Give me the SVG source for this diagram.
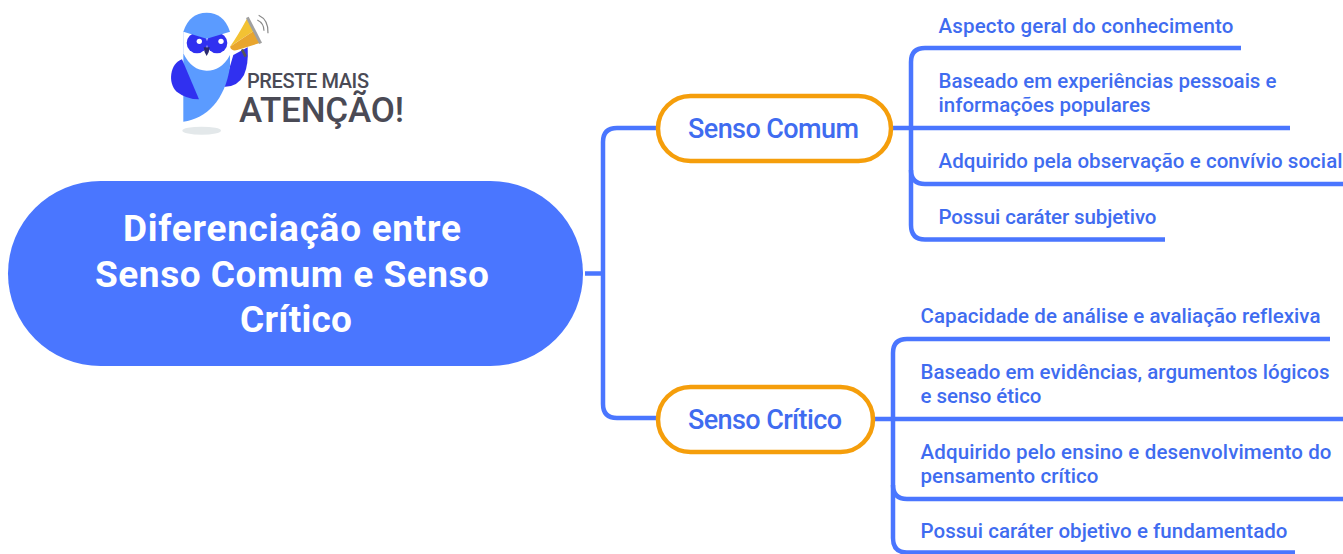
<svg xmlns="http://www.w3.org/2000/svg" width="1343" height="554" viewBox="0 0 1343 554">
<style>
text{font-family:"Roboto","Noto Sans","Liberation Sans",sans-serif;font-variant-ligatures:none}
.leaf{font-size:20.500px;font-weight:500;fill:#3f6cf0}
.mid{font-size:27px;font-weight:500;fill:#3f6cf0}
.title{font-size:37px;font-weight:700;fill:#fff}
.pill{fill:#fff;stroke:#f59e0b;stroke-width:4.5}
.c{fill:none;stroke:#4a76ff;stroke-width:4.5}
.logo{fill:#4a4a55;font-weight:500}
</style>
<rect width="1343" height="554" fill="#fff"/>
<g id="connectors">
<path class="c" d="M585 273.500H603"/>
<path class="c" d="M657 128H617Q603 128 603 142V404Q603 418 617 418H657"/>
<path class="c" d="M893 128H1290"/>
<path class="c" d="M1241 48H925Q911 48 911 62V225Q911 239.500 925 239.500H1165"/>
<path class="c" d="M911 170Q911 184 925 184H1343"/>
<path class="c" d="M875 419H1343"/>
<path class="c" d="M1330 339H907Q893 339 893 353V538Q893 552.500 907 552.500H1295"/>
<path class="c" d="M893 485Q893 499 907 499H1343"/>
</g>
<g id="root">
<rect x="8" y="181" width="575" height="185" rx="92.500" fill="#4a76ff"/>
<text class="title" x="123" y="241" textLength="338">Diferenciação entre</text>
<text class="title" x="95" y="287" textLength="394">Senso Comum e Senso</text>
<text class="title" x="240" y="332" textLength="112">Crítico</text>
</g>
<g id="senso-comum">
<rect class="pill" x="658" y="96" width="233" height="65" rx="32.500"/>
<text class="mid" x="688" y="138" textLength="171">Senso Comum</text>
</g>
<g id="senso-critico">
<rect class="pill" x="658" y="387" width="215" height="65" rx="32.500"/>
<text class="mid" x="688" y="429" textLength="154">Senso Crítico</text>
</g>
<g id="leaf-c1"><text class="leaf" x="938.500" y="33" textLength="295">Aspecto geral do conhecimento</text></g>
<g id="leaf-c2"><text class="leaf" x="938.500" y="88" textLength="338">Baseado em experiências pessoais e</text><text class="leaf" x="938.500" y="112" textLength="212">informações populares</text></g>
<g id="leaf-c3"><text class="leaf" x="938.500" y="168" textLength="404">Adquirido pela observação e convívio social</text></g>
<g id="leaf-c4"><text class="leaf" x="938.500" y="224" textLength="218">Possui caráter subjetivo</text></g>
<g id="leaf-s1"><text class="leaf" x="920.500" y="323" textLength="400">Capacidade de análise e avaliação reflexiva</text></g>
<g id="leaf-s2"><text class="leaf" x="920.500" y="379" textLength="409">Baseado em evidências, argumentos lógicos</text><text class="leaf" x="920.500" y="403" textLength="121">e senso ético</text></g>
<g id="leaf-s3"><text class="leaf" x="920.500" y="459" textLength="411">Adquirido pelo ensino e desenvolvimento do</text><text class="leaf" x="920.500" y="483" textLength="178">pensamento crítico</text></g>
<g id="leaf-s4"><text class="leaf" x="920.500" y="538" textLength="367">Possui caráter objetivo e fundamentado</text></g>
<g id="logo">
<g transform="translate(150 0) scale(.3333)">
<ellipse cx="155" cy="392" rx="58" ry="12" fill="#e3e8ea"/>
<path d="M222 260Q262 262 282 225Q296 195 293 142L250 165Z" fill="#3030f0"/>
<path d="M100 95V365C170 355 225 300 240 200V95Z" fill="#5b9bff"/>
<path d="M100 95L240 95V165Q215 212 170 212Q125 212 100 160Z" fill="#fff"/>
<path d="M96 178C60 190 52 250 80 275Q110 298 147 298Z" fill="#3030f0"/>
<circle cx="141" cy="129" r="31" fill="#3030f0"/>
<circle cx="201" cy="129" r="31" fill="#3030f0"/>
<path d="M100 95Q118 38 170 38Q222 38 240 95L170 116Z" fill="#5b9bff"/>
<circle cx="148" cy="124" r="8" fill="#fff"/>
<circle cx="213" cy="124" r="8" fill="#fff"/>
<path d="M161 142H179Q178 158 170 168Q162 158 161 142Z" fill="#2a2a70"/>
<path d="M240 140Q262 110 292 54L312 92L262 125Z" fill="#f3c233"/>
<path d="M240 140L312 92L332 128L262 150Q245 155 240 140Z" fill="#e8a52e"/>
<path d="M292 52L332 130" stroke="#a0a0a0" stroke-width="9" fill="none"/>
<path d="M276 148L287 170" stroke="#555" stroke-width="8" fill="none"/>
<path d="M322 60Q342 70 342 92M326 46Q356 60 354 100" stroke="#888" stroke-width="3.500" fill="none"/>
</g>
<text class="logo" x="247" y="88" font-size="20" textLength="122">PRESTE MAIS</text>
<text class="logo" x="239" y="122" font-size="35" textLength="165">ATENÇÃO!</text>
</g>
</svg>
